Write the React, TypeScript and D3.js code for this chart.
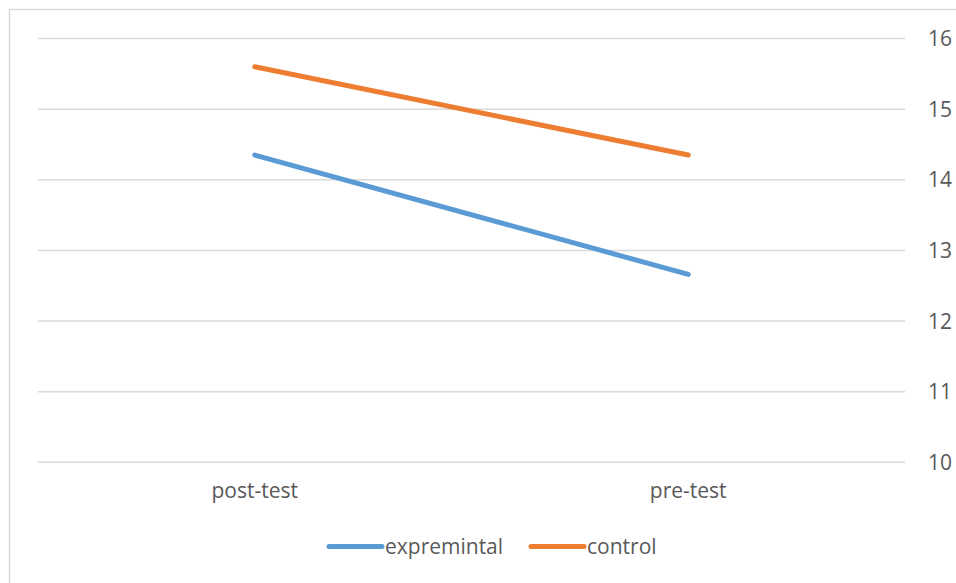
import React, { useEffect, useRef } from 'react';
import * as d3 from 'd3';

// data
const categories = ['post-test', 'pre-test'];
const seriesNames = ['expremintal', 'control'];
const expremintal = [14.35, 12.66];
const control = [15.6, 14.35];
const yTicks = [10, 11, 12, 13, 14, 15, 16];

const colors = ['#5b9bd5', '#ed7d31'];

export default function App() {
    const ref = useRef<SVGSVGElement | null>(null);

    useEffect(() => {
        document.body.style.margin = '0';

        var width = 956;
        var height = 583;
        var svg = d3.select(ref.current);
        svg.selectAll('*').remove();

        // chart frame (right and bottom edges fall outside the picture)
        svg.append('rect')
            .attr('x', 9.5)
            .attr('y', 9.5)
            .attr('width', width + 20)
            .attr('height', height + 20)
            .attr('fill', '#fff')
            .attr('stroke', '#d9d9d9')
            .attr('stroke-width', 1.5);

        var x = d3.scaleBand().domain(categories).range([38, 905]);
        var y = d3.scaleLinear().domain([10, 16]).range([462.3, 38.5]);

        var font = "'Open Sans', sans-serif";
        var textColor = '#595959';

        // gridlines
        svg.append('g')
            .selectAll('line')
            .data(yTicks)
            .enter().append('line')
            .attr('x1', 38)
            .attr('x2', 905)
            .attr('y1', d => y(d))
            .attr('y2', d => y(d))
            .attr('stroke', '#d9d9d9')
            .attr('stroke-width', 1.5);

        // right axis labels
        svg.append('g')
            .selectAll('text')
            .data(yTicks)
            .enter().append('text')
            .attr('x', 928)
            .attr('y', d => y(d))
            .attr('dy', '0.36em')
            .attr('font-family', font)
            .attr('font-size', 21)
            .attr('fill', textColor)
            .text(d => d);

        // category labels
        svg.append('g')
            .selectAll('text')
            .data(categories)
            .enter().append('text')
            .attr('x', d => (x(d) as number) + x.bandwidth() / 2)
            .attr('y', 498)
            .attr('text-anchor', 'middle')
            .attr('font-family', font)
            .attr('font-size', 21)
            .attr('fill', textColor)
            .text(d => d);

        var line = d3.line<number>()
            .x((d, i) => (x(categories[i]) as number) + x.bandwidth() / 2)
            .y(d => y(d));

        [expremintal, control].forEach(function (vals, i) {
            svg.append('path')
                .attr('d', line(vals))
                .attr('fill', 'none')
                .attr('stroke', colors[i])
                .attr('stroke-width', 5)
                .attr('stroke-linecap', 'round');
        });

        // legend
        var legendItems = [
            { name: seriesNames[0], x: 327, color: colors[0] },
            { name: seriesNames[1], x: 529, color: colors[1] }
        ];
        var lg = svg.append('g');
        legendItems.forEach(function (it) {
            lg.append('line')
                .attr('x1', it.x + 2)
                .attr('x2', it.x + 55)
                .attr('y1', 546.5)
                .attr('y2', 546.5)
                .attr('stroke', it.color)
                .attr('stroke-width', 5)
                .attr('stroke-linecap', 'round');
            lg.append('text')
                .attr('x', it.x + 58)
                .attr('y', 546.5)
                .attr('dy', '0.36em')
                .attr('font-family', font)
                .attr('font-size', 21)
                .attr('fill', textColor)
                .text(it.name);
        });
    }, []);

    return (
        <svg ref={ref} width={956} height={583} style={{ display: 'block' }}></svg>
    );
}
